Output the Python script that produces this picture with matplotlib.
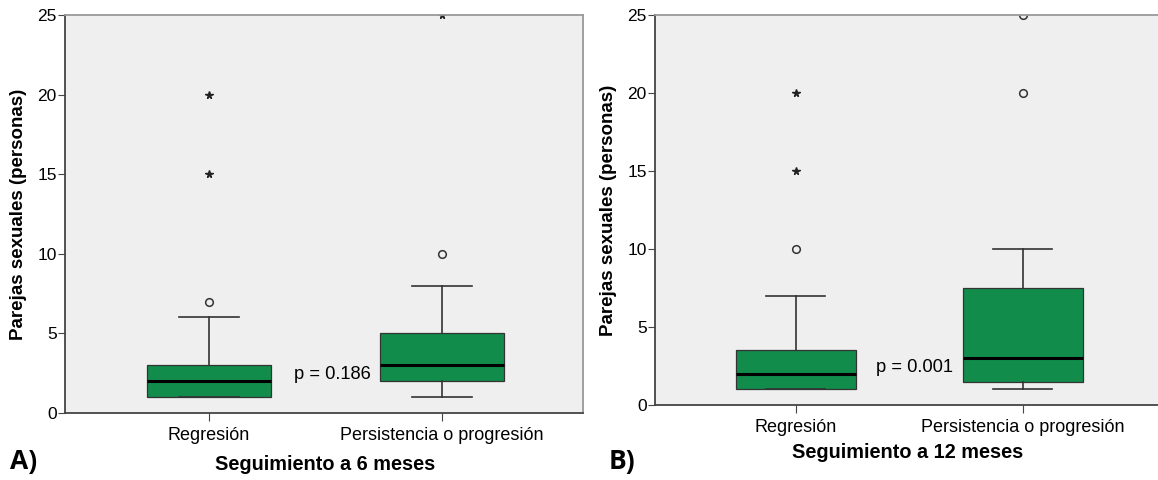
import numpy as np
import matplotlib.pyplot as plt

plt.rcParams['font.family'] = ['Liberation Sans', 'DejaVu Sans']

grupos = ['Regresión', 'Persistencia o progresión']

# seguimiento a 6 meses: [whisker_bajo, q1, mediana, q3, whisker_alto]
stats_6 = [[1, 1, 2, 3, 6], [1, 2, 3, 5, 8]]
circ_6 = [[7], [10]]
estr_6 = [[15, 20], [25]]

# seguimiento a 12 meses
stats_12 = [[1, 1, 2, 3.5, 7], [1, 1.5, 3, 7.5, 10]]
circ_12 = [[10], [20, 25]]
estr_12 = [[15, 20], []]

pvals = ['p = 0.186', 'p = 0.001']
titulos = ['Seguimiento a 6 meses', 'Seguimiento a 12 meses']
letras = ['A)', 'B)']

verde = '#118c4a'
W, H = 1158, 480

fig = plt.figure(figsize=(W / 100, H / 100), dpi=100)

def panel(rect, stats, circ, estr, xlim, ptxt, pxy, titulo, letra, lxy, txy):
    ax = fig.add_axes(rect)
    ax.set_facecolor('#efefef')
    bxp = []
    for st in stats:
        bxp.append({'whislo': st[0], 'q1': st[1], 'med': st[2], 'q3': st[3], 'whishi': st[4], 'fliers': []})
    ax.bxp(bxp, positions=[1, 2], widths=0.53, patch_artist=True, showfliers=False,
           boxprops=dict(facecolor=verde, edgecolor='#333333', linewidth=0.9),
           medianprops=dict(color='black', linewidth=2.2),
           whiskerprops=dict(color='#333333', linewidth=1.2),
           capprops=dict(color='#333333', linewidth=1.2), capwidths=0.26)
    for i in range(2):
        if circ[i]:
            ax.plot([i + 1] * len(circ[i]), circ[i], 'o', ms=5.5, mfc='none', mec='#333333', mew=1.1)
        if estr[i]:
            ax.plot([i + 1] * len(estr[i]), estr[i], '*', ms=5.5, color='#222222')
    ax.set_xlim(*xlim)
    ax.set_ylim(0, 25)
    ax.set_yticks([0, 5, 10, 15, 20, 25])
    ax.set_xticks([1, 2])
    ax.set_xticklabels(grupos, fontsize=13)
    ax.tick_params(axis='y', labelsize=12.5, length=5, color='#444444', pad=1)
    ax.tick_params(axis='x', length=6, color='#444444', pad=4)
    ax.set_ylabel('Parejas sexuales (personas)', fontsize=13.5, fontweight='bold', labelpad=7)
    for s in ['left', 'bottom']:
        ax.spines[s].set_color('#444444')
        ax.spines[s].set_linewidth(1.3)
    for s in ['top', 'right']:
        ax.spines[s].set_color('#999999')
        ax.spines[s].set_linewidth(1.3)
    ax.text(pxy[0], pxy[1], ptxt, fontsize=13.2, ha='center', va='center')
    fig.text(txy[0] / W, 1 - txy[1] / H, titulo, fontsize=14.3, fontweight='bold', ha='center', va='center')
    fig.text(lxy[0] / W, 1 - lxy[1] / H, letra, fontsize=19, fontweight='bold', ha='left', va='center',
             family=['Open Sans', 'DejaVu Sans'])
    return ax

panel([65 / W, 1 - 413 / H, (583 - 65) / W, (413 - 15) / H], stats_6, circ_6, estr_6,
      (0.382, 2.605), pvals[0], (1.53, 2.4), titulos[0], 'A)', (10, 461), (325, 465))
panel([655 / W, 1 - 405 / H, (1160 - 655) / W, (405 - 15) / H], stats_12, circ_12, estr_12,
      (0.379, 2.605), pvals[1], (1.524, 2.4), titulos[1], 'B)', (609, 461), (908, 453))

fig.savefig('out.png', dpi=100)
